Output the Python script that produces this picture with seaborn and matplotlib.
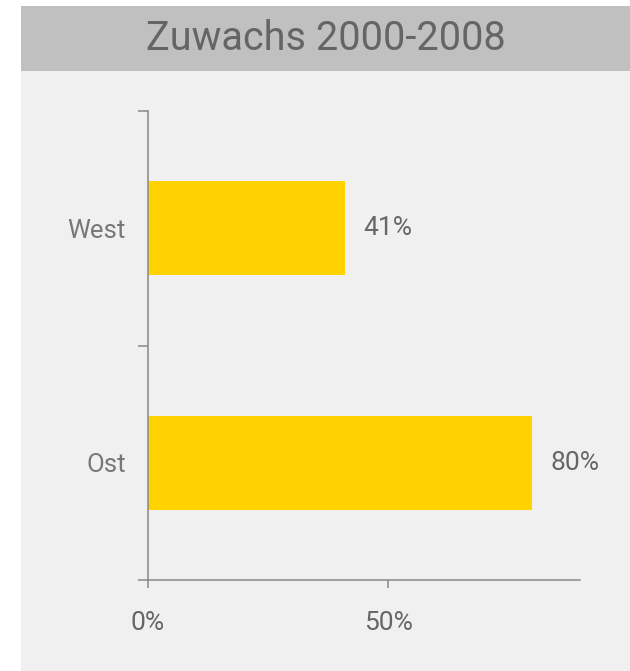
import matplotlib
matplotlib.use("Agg")
import matplotlib.pyplot as plt
import seaborn as sns
import pandas as pd
from matplotlib.patches import Rectangle

# Daten
regionen = ["West", "Ost"]
zuwachs = [41, 80]
x_ticks = [0, 50]
x_labels = ["0%", "50%"]
titel = "Zuwachs 2000-2008"

sns.set_theme(style="ticks")
plt.rcParams["font.family"] = ["Roboto", "DejaVu Sans"]

grau = "#888888"
text_grau = "#666666"
gelb = "#FFD200"

df = pd.DataFrame({"Region": regionen, "Zuwachs": zuwachs})

fig = plt.figure(figsize=(6.3, 6.71), dpi=100)
fig.patch.set_facecolor("white")
# Hintergrund und Titelband
fig.patches.append(Rectangle((21 / 630, 0), 1 - 21 / 630, 1 - 6 / 671, transform=fig.transFigure,
                             facecolor="#f0f0f0", edgecolor="none", zorder=-2))
fig.patches.append(Rectangle((21 / 630, 1 - 71 / 671), 1 - 21 / 630, 65 / 671, transform=fig.transFigure,
                             facecolor="#c0c0c0", edgecolor="none", zorder=-1))
fig.text(326 / 630, 1 - 39 / 671, titel, ha="center", va="center",
         fontsize=28.5, color="#656565")

ax = fig.add_axes([148 / 630, 1 - 580 / 671, (580 - 148) / 630, (580 - 111) / 671])
ax.set_facecolor("none")

sns.barplot(data=df, y="Region", x="Zuwachs", orient="h", color=gelb, width=0.4,
            saturation=1, linewidth=0, edgecolor="none", ax=ax)

ax.set_xlim(0, 90)
ax.set_ylim(1.5, -0.5)

for c in ax.containers:
    ax.bar_label(c, labels=[f"{v}%" for v in zuwachs], padding=13.5, fontsize=19,
                 color=text_grau)

ax.set_xticks(x_ticks)
ax.set_xticklabels(x_labels)
ax.set_yticks([-0.5, 0.5, 1.5])
ax.set_yticklabels([])
ax.set_yticks([0, 1], minor=True)
ax.set_yticklabels(regionen, minor=True)
ax.tick_params(axis="y", which="major", length=7, width=1.1, color=grau)
ax.tick_params(axis="y", which="minor", length=0, pad=16, labelsize=18.5, labelcolor="#777777")
ax.tick_params(axis="x", length=6, width=1.1, color=grau, pad=16, labelsize=19,
               labelcolor=text_grau)

ax.set_xlabel("")
ax.set_ylabel("")
for s in ["top", "right"]:
    ax.spines[s].set_visible(False)
for s in ["left", "bottom"]:
    ax.spines[s].set_color(grau)
    ax.spines[s].set_linewidth(1.1)

fig.savefig("out.png", dpi=100)
